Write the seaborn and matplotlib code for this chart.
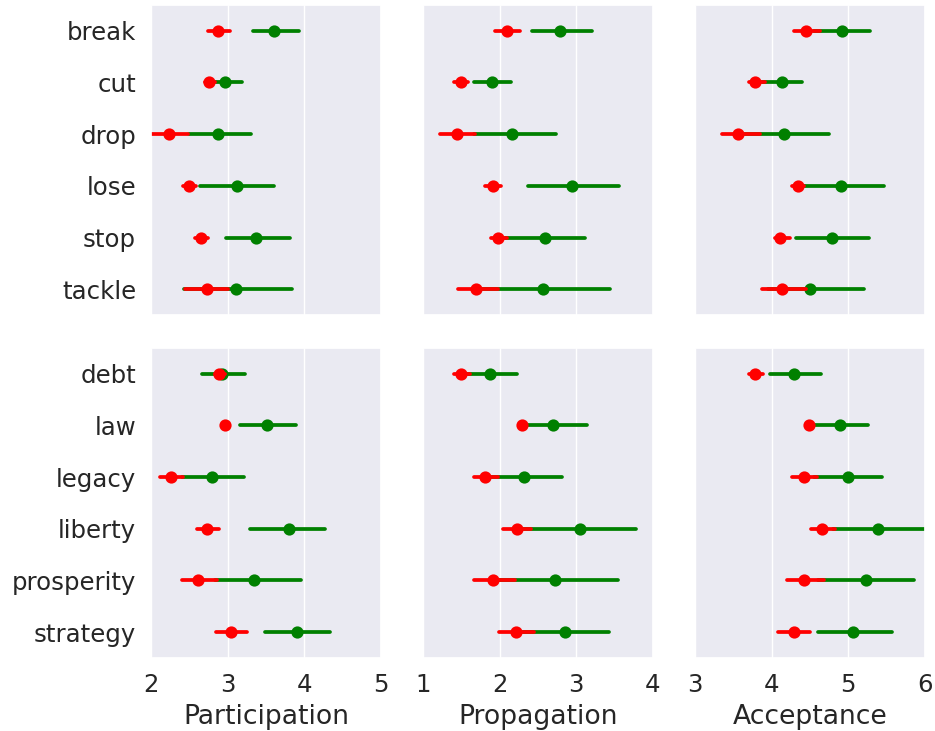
import numpy as np
import pandas as pd
import seaborn as sns
import matplotlib
matplotlib.use("Agg")
import matplotlib.pyplot as plt

# -----------------------------
# Data
# -----------------------------
words_top = ["break", "cut", "drop", "lose", "stop", "tackle"]
words_bottom = ["debt", "law", "legacy", "liberty", "prosperity", "strategy"]
words = words_top + words_bottom

measures = ["Participation", "Propagation", "Acceptance"]
x_limits = [(2, 5), (1, 4), (3, 6)]

# Participation
part_red_mean = [2.875, 2.754, 2.237, 2.496, 2.651, 2.724, 2.884, 2.966, 2.263, 2.733, 2.616, 3.043]
part_red_lo = [2.746, 2.70, 1.98, 2.42, 2.58, 2.444, 2.83, 2.94, 2.121, 2.603, 2.401, 2.853]
part_red_hi = [3.034, 2.83, 2.487, 2.59, 2.74, 3.004, 2.96, 2.99, 2.414, 2.884, 2.862, 3.254]
part_green_mean = [3.608, 2.961, 2.879, 3.116, 3.366, 3.108, 2.931, 3.513, 2.797, 3.797, 3.345, 3.901]
part_green_lo = [3.336, 2.80, 2.49, 2.638, 2.974, 2.435, 2.659, 3.155, 2.40, 3.297, 2.84, 3.487]
part_green_hi = [3.931, 3.19, 3.306, 3.599, 3.810, 3.845, 3.224, 3.892, 3.211, 4.272, 3.953, 4.341]

# Propagation
prop_red_mean = [2.09, 1.496, 1.440, 1.914, 1.978, 1.694, 1.496, 2.297, 1.806, 2.22, 1.909, 2.211]
prop_red_lo = [1.935, 1.405, 1.216, 1.815, 1.888, 1.457, 1.405, 2.27, 1.664, 2.043, 1.664, 1.987]
prop_red_hi = [2.259, 1.586, 1.672, 2.017, 2.095, 1.974, 1.612, 2.33, 1.974, 2.405, 2.194, 2.448]
prop_green_mean = [2.793, 1.897, 2.155, 2.944, 2.591, 2.560, 1.875, 2.698, 2.315, 3.043, 2.72, 2.858]
prop_green_lo = [2.418, 1.664, 1.66, 2.366, 2.07, 1.68, 1.53, 2.26, 1.86, 2.31, 1.91, 2.30]
prop_green_hi = [3.203, 2.147, 2.733, 3.560, 3.112, 3.444, 2.224, 3.138, 2.815, 3.776, 3.539, 3.422]

# Acceptance
acc_red_mean = [4.444, 3.789, 3.565, 4.341, 4.112, 4.138, 3.789, 4.487, 4.418, 4.655, 4.427, 4.289]
acc_red_lo = [4.297, 3.698, 3.349, 4.259, 4.043, 3.879, 3.698, 4.46, 4.259, 4.517, 4.194, 4.086]
acc_red_hi = [4.634, 3.909, 3.845, 4.427, 4.233, 4.453, 3.888, 4.52, 4.591, 4.828, 4.685, 4.504]
acc_green_mean = [4.918, 4.129, 4.159, 4.901, 4.789, 4.496, 4.289, 4.897, 4.996, 5.392, 5.224, 5.065]
acc_green_lo = [4.55, 3.87, 3.58, 4.35, 4.323, 3.95, 3.978, 4.55, 4.55, 4.8, 4.6, 4.603]
acc_green_hi = [5.289, 4.397, 4.754, 5.461, 5.272, 5.203, 4.638, 5.259, 5.444, 6.02, 5.853, 5.573]

series = {
    ("Participation", "green"): (part_green_lo, part_green_mean, part_green_hi),
    ("Participation", "red"): (part_red_lo, part_red_mean, part_red_hi),
    ("Propagation", "green"): (prop_green_lo, prop_green_mean, prop_green_hi),
    ("Propagation", "red"): (prop_red_lo, prop_red_mean, prop_red_hi),
    ("Acceptance", "green"): (acc_green_lo, acc_green_mean, acc_green_hi),
    ("Acceptance", "red"): (acc_red_lo, acc_red_mean, acc_red_hi),
}

# long table: lo / mean / hi per cell -> median + full-range interval
rows = []
for (measure, group), (lo, mean, hi) in series.items():
    for i, w in enumerate(words):
        for v in (lo[i], mean[i], hi[i]):
            rows.append({"measure": measure, "group": group, "word": w, "value": v})
df = pd.DataFrame(rows)

# -----------------------------
# Plot
# -----------------------------
sns.set_theme(style="darkgrid", font_scale=1.6)

fig, axes = plt.subplots(2, 3, figsize=(9.35, 7.31), dpi=100, sharex="col", sharey="row")
fig.subplots_adjust(left=0.1615, right=0.9893, top=0.9932, bottom=0.0999,
                    wspace=0.1826, hspace=0.106)

for r, word_list in enumerate([words_top, words_bottom]):
    for c, measure in enumerate(measures):
        ax = axes[r, c]
        sub = df[(df["measure"] == measure) & (df["word"].isin(word_list))]
        sns.pointplot(data=sub, x="value", y="word", hue="group", order=word_list,
                      hue_order=["green", "red"], palette={"green": "green", "red": "red"},
                      estimator="median", errorbar=("pi", 100), linestyle="none",
                      orient="h", legend=False, ax=ax)
        ax.set_xlim(*x_limits[c])
        ax.set_xticks(np.arange(x_limits[c][0], x_limits[c][1] + 1))
        ax.set_ylabel("")
        ax.set_xlabel(measure if r == 1 else "", labelpad=5)
        ax.tick_params(axis="x", pad=4.5)
        ax.tick_params(axis="y", pad=4.8)

fig.savefig("out.png", dpi=100)
